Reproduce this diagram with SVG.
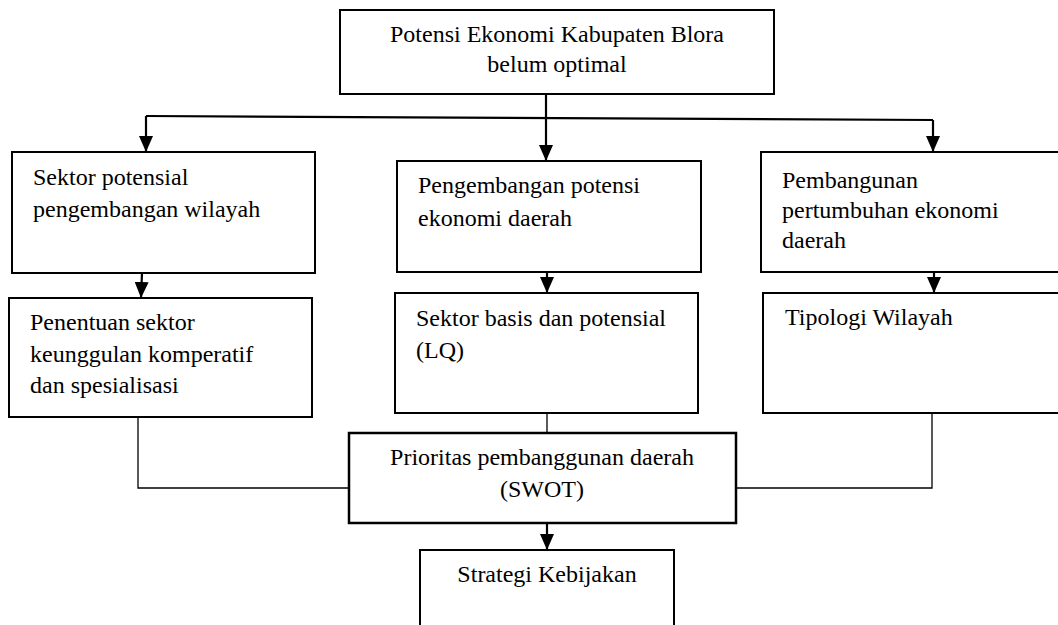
<svg xmlns="http://www.w3.org/2000/svg" width="1058" height="625" viewBox="0 0 1058 625">
<style>
  .box { fill: #ffffff; stroke: #000000; stroke-width: 2; }
  .t { font-family: "Liberation Serif", "Times New Roman", serif; font-size: 24px; fill: #000000; }
  .c { text-anchor: middle; }
  .arrow { fill: none; stroke: #000000; stroke-width: 2.2; marker-end: url(#ah); }
  .line { fill: none; stroke: #000000; stroke-width: 1.3; }
</style>
<defs>
  <marker id="ah" viewBox="0 0 16 14" refX="16" refY="7" markerWidth="16" markerHeight="14" markerUnits="userSpaceOnUse" orient="auto">
    <path d="M0,0 L16,7 L0,14 z" fill="#000000"/>
  </marker>
</defs>
<rect width="1058" height="625" fill="#ffffff"/>

<g id="connectors">
  <path class="arrow" d="M546,94 L546,161"/>
  <path class="line" d="M146,116 L933,120" style="stroke-width:2.2"/>
  <path class="arrow" d="M146,116 L146,152"/>
  <path class="arrow" d="M933,120 L933,152"/>
  <path class="arrow" d="M142,273 L141,298"/>
  <path class="arrow" d="M547,272 L547,293"/>
  <path class="arrow" d="M934,272 L934,293"/>
  <path class="line" d="M547,413 L547,433"/>
  <path class="line" d="M138,417 L138,488 L352,488"/>
  <path class="line" d="M932,413 L932,488 L736,488"/>
  <path class="arrow" d="M547,523 L547,550"/>
</g>

<g id="n_top">
  <rect class="box" x="340" y="10" width="434" height="84"/>
  <text class="t c" x="557" y="42">Potensi Ekonomi Kabupaten Blora</text>
  <text class="t c" x="557" y="72">belum optimal</text>
</g>

<g id="n_sektor_potensial">
  <rect class="box" x="12" y="152" width="303" height="121"/>
  <text class="t" x="33" y="185">Sektor potensial</text>
  <text class="t" x="33" y="217">pengembangan wilayah</text>
</g>

<g id="n_pengembangan">
  <rect class="box" x="397" y="161" width="304" height="111"/>
  <text class="t" x="418" y="193">Pengembangan potensi</text>
  <text class="t" x="418" y="226">ekonomi daerah</text>
</g>

<g id="n_pembangunan">
  <rect class="box" x="761" y="152" width="320" height="120"/>
  <text class="t" x="782" y="188">Pembangunan</text>
  <text class="t" x="782" y="218">pertumbuhan ekonomi</text>
  <text class="t" x="782" y="248">daerah</text>
</g>

<g id="n_penentuan">
  <rect class="box" x="9" y="298" width="303" height="119"/>
  <text class="t" x="30" y="330">Penentuan sektor</text>
  <text class="t" x="30" y="362">keunggulan komperatif</text>
  <text class="t" x="30" y="393">dan spesialisasi</text>
</g>

<g id="n_sektor_basis">
  <rect class="box" x="395" y="293" width="303" height="120"/>
  <text class="t" x="416" y="326">Sektor basis dan potensial</text>
  <text class="t" x="416" y="358">(LQ)</text>
</g>

<g id="n_tipologi">
  <rect class="box" x="763" y="293" width="320" height="120"/>
  <text class="t" x="785" y="325">Tipologi Wilayah</text>
</g>

<g id="n_prioritas">
  <rect class="box" x="349" y="433" width="387" height="90" style="stroke-width:2.5"/>
  <text class="t c" x="542" y="465">Prioritas pembanggunan daerah</text>
  <text class="t c" x="542" y="497">(SWOT)</text>
</g>

<g id="n_strategi">
  <rect class="box" x="420" y="550" width="254" height="100"/>
  <text class="t c" x="547" y="582">Strategi Kebijakan</text>
</g>
</svg>
